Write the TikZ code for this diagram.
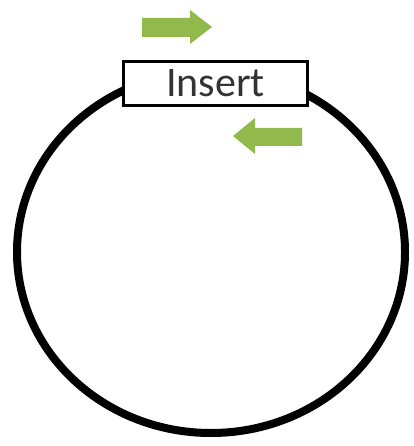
\documentclass[tikz,border=0pt]{standalone}
\usepackage{fontspec}
\setmainfont{Carlito}
\definecolor{arrowgreen}{RGB}{145,185,75}
\tikzset{
  ring/.style={line width=8pt, draw=black},
  insertbox/.style={draw=black, fill=white, line width=3.8pt, minimum width=184pt, minimum height=44pt, inner sep=0pt, font=\fontsize{42}{44}\selectfont, text=black!80},
  greenarrow/.style={fill=arrowgreen, draw=none}
}
\begin{document}
\begin{tikzpicture}[x=1pt,y=-1pt]
\useasboundingbox (0,0) rectangle (413,446);
\coordinate (c) at (211,252);
\draw[ring] (c) ellipse [x radius=194, y radius=181];
\node[insertbox] (ins) at (215.5,83.5) {Insert};
% forward arrow
\fill[greenarrow] (142,18) -- (190,18) -- (190,10) -- (212,27) -- (190,44) -- (190,37) -- (142,37) -- cycle;
% reverse arrow
\fill[greenarrow] (302,128) -- (255,128) -- (255,118) -- (233,136) -- (255,154) -- (255,146) -- (302,146) -- cycle;
\end{tikzpicture}
\end{document}
